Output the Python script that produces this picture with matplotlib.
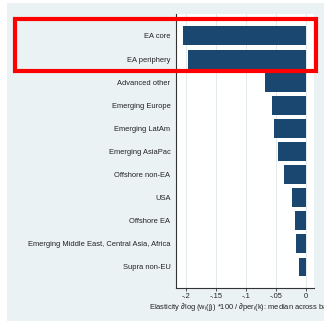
import matplotlib.pyplot as plt
from matplotlib.patches import Rectangle

plt.rcParams["font.family"] = ["Liberation Sans", "DejaVu Sans"]
plt.rcParams["mathtext.fontset"] = "custom"
plt.rcParams["mathtext.rm"] = "Liberation Sans"
plt.rcParams["mathtext.it"] = "Liberation Sans"

regions = [
    "EA core",
    "EA periphery",
    "Advanced other",
    "Emerging Europe",
    "Emerging LatAm",
    "Emerging AsiaPac",
    "Offshore non-EA",
    "USA",
    "Offshore EA",
    "Emerging Middle East, Central Asia, Africa",
    "Supra non-EU",
]
elasticity = [-0.205, -0.196, -0.069, -0.057, -0.053, -0.046, -0.037, -0.023, -0.019, -0.017, -0.011]

x_ticks = [-0.2, -0.15, -0.1, -0.05, 0]
x_tick_labels = ["-.2", "-.15", "-.1", "-.05", "0"]

BG = "#eaf2f3"
NAVY = "#1a476f"
FS = 5.45

fig = plt.figure(figsize=(3.24, 3.21), dpi=100, facecolor="white")
fig.patches.append(Rectangle((0.0216, 0.0), 0.9784, 0.9907, transform=fig.transFigure,
                             facecolor=BG, edgecolor="none", zorder=-10))

ax = fig.add_axes([0.5432, 0.1028, 0.4259, 0.8536])
ax.set_facecolor("white")
ypos = list(range(len(regions)))
ax.barh(ypos, elasticity, height=0.82, color=NAVY, zorder=3)

ax.set_xlim(-0.2167, 0.0133)
ax.set_ylim(10.91, -0.95)
ax.set_yticks(ypos)
ax.set_yticklabels(regions, fontsize=FS, color="#222222")
ax.tick_params(axis="y", length=0, pad=4)
ax.set_xticks(x_ticks)
ax.set_xticklabels(x_tick_labels, fontsize=FS, color="#222222")
ax.tick_params(axis="x", length=2.5, width=0.6, pad=1, color="#333333")
ax.grid(axis="x", color="#dde6e9", linewidth=0.6, zorder=0)

for side in ("top", "right"):
    ax.spines[side].set_visible(False)
for side in ("left", "bottom"):
    ax.spines[side].set_color("#333333")
    ax.spines[side].set_linewidth(0.8)

ax.set_xlabel(r"Elasticity $\partial$log (w$_i$(j)) *100 / $\partial$per$_i$(k): median across banks",
              fontsize=FS, labelpad=0.5, color="#222222")

# highlight box around the euro-area rows
fig.patches.append(Rectangle((0.0448, 0.7788), 0.929, 0.162, transform=fig.transFigure,
                             facecolor="none", edgecolor="#ff0000", linewidth=3.0, zorder=20))

fig.savefig("out.png", dpi=100, facecolor="white")
